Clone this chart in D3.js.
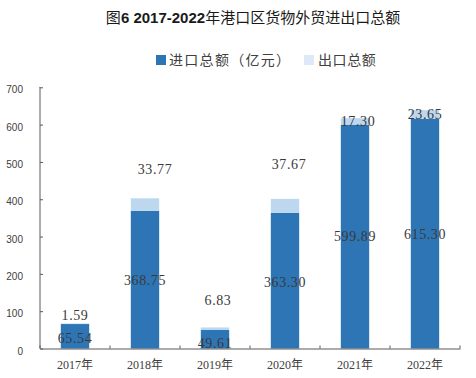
<!DOCTYPE html>
<html><head><meta charset="utf-8">
<script src="https://cdn.jsdelivr.net/npm/d3@7"></script>
<style>body{margin:0;background:#fff}svg{display:block}</style>
</head><body>
<svg id="c" width="476" height="378"></svg>
<script>
const years = ["2017年","2018年","2019年","2020年","2021年","2022年"];
const importVals = [65.54, 368.75, 49.61, 363.30, 599.89, 615.30];
const exportVals = [1.59, 33.77, 6.83, 37.67, 17.30, 23.65];
const yTicks = [0,100,200,300,400,500,600,700];
const titleText = ["图","6 2017-2022","年港口区货物外贸进出口总额"];
const legendLabels = ["进口总额（亿元）","出口总额"];

// layout-only label nudges (px)
const exportLabelDy = [-9, -36, -29, -42, 0, 0];
const exportLabelDx = [0, 10, 3, 4, 3, 0];
const importLabelDy = [2, 0, 4, 1, 0, 0];

const dark = "#2e75b6", light = "#bdd7ee", lightLegend = "#dde9f6";
const serif = "'Liberation Serif','Noto Sans CJK SC',serif";
const cjk = "'Noto Sans CJK SC',sans-serif";

const svg = d3.select("#c");
const L = 40, R = 460, T = 87.3, B = 348.5;
const x = d3.scaleBand().domain(years).range([L, R]).padding(0);
const y = d3.scaleLinear().domain([0, 700]).range([B, T]);
const barW = x.bandwidth() * 0.405;
const bx = d => x(d) + (x.bandwidth() - barW) / 2;

// title
const t = svg.append("text").attr("x", 253).attr("y", 22.5).attr("text-anchor", "middle")
  .attr("font-size", 15).attr("fill", "#1a1a1a");
t.append("tspan").attr("font-family", cjk).attr("font-weight", 400).text(titleText[0]);
t.append("tspan").attr("font-family", "'Liberation Sans',Arial,sans-serif").attr("font-weight", "bold").text(titleText[1]);
t.append("tspan").attr("font-family", cjk).attr("font-weight", 400).text(titleText[2]);

// legend
const lg = svg.append("g");
lg.append("rect").attr("x", 156).attr("y", 55).attr("width", 10).attr("height", 10).attr("fill", dark);
lg.append("text").attr("x", 169).attr("y", 65).attr("font-family", cjk).attr("font-size", 14)
  .attr("letter-spacing", 1.3).attr("fill", "#404040").text(legendLabels[0]);
lg.append("rect").attr("x", 304).attr("y", 55).attr("width", 10).attr("height", 10).attr("fill", lightLegend);
lg.append("text").attr("x", 318).attr("y", 65).attr("font-family", cjk).attr("font-size", 14)
  .attr("letter-spacing", 0.6).attr("fill", "#404040").text(legendLabels[1]);

// bars
const g = svg.append("g");
g.selectAll("rect.imp").data(years).join("rect").attr("class", "imp")
  .attr("x", d => bx(d)).attr("width", barW)
  .attr("y", (d, i) => y(importVals[i])).attr("height", (d, i) => y(0) - y(importVals[i]))
  .attr("fill", dark);
g.selectAll("rect.exp").data(years).join("rect").attr("class", "exp")
  .attr("x", d => bx(d)).attr("width", barW)
  .attr("y", (d, i) => y(importVals[i] + exportVals[i]))
  .attr("height", (d, i) => y(importVals[i]) - y(importVals[i] + exportVals[i]))
  .attr("fill", light);

// axes
const yAxis = svg.append("g").attr("transform", `translate(${L},0)`)
  .call(d3.axisLeft(y).tickValues(yTicks).tickSize(-3).tickPadding(17).tickFormat(d3.format("d")));
yAxis.select(".domain").attr("stroke", "#595959").attr("d", `M-0.5,${T}H0V${B}`);
yAxis.selectAll(".tick line").attr("stroke", "#595959");
yAxis.selectAll("text").attr("font-family", "'Liberation Sans',Arial,sans-serif").attr("font-size", 10).attr("fill", "#404040").attr("dy", "0.55em");

const xAxis = svg.append("g").attr("transform", `translate(0,${B})`)
  .call(d3.axisBottom(x).tickSize(0).tickPadding(12));
xAxis.select(".domain").attr("stroke", "#595959");
xAxis.selectAll("text").attr("font-family", serif).attr("font-size", 12).attr("fill", "#404040");
const bounds = years.map(d => x(d)).concat([R]);
xAxis.selectAll("line.bd").data(bounds).join("line").attr("class", "bd")
  .attr("x1", d => d).attr("x2", d => d).attr("y1", 0).attr("y2", -3).attr("stroke", "#595959");

// labels
const lab = svg.append("g").attr("font-family", serif).attr("font-size", 14).attr("fill", "#3a3a3a")
  .attr("text-anchor", "middle").attr("letter-spacing", 0.6);
lab.selectAll("text.il").data(years).join("text").attr("class", "il")
  .attr("x", d => x(d) + x.bandwidth() / 2)
  .attr("y", (d, i) => y(importVals[i] / 2) + importLabelDy[i]).attr("dy", "0.35em")
  .text((d, i) => importVals[i].toFixed(2));
lab.selectAll("text.el").data(years).join("text").attr("class", "el")
  .attr("x", (d, i) => x(d) + x.bandwidth() / 2 + exportLabelDx[i])
  .attr("y", (d, i) => y(importVals[i] + exportVals[i] / 2) + exportLabelDy[i]).attr("dy", "0.35em")
  .text((d, i) => exportVals[i].toFixed(2));
</script>
</body></html>
